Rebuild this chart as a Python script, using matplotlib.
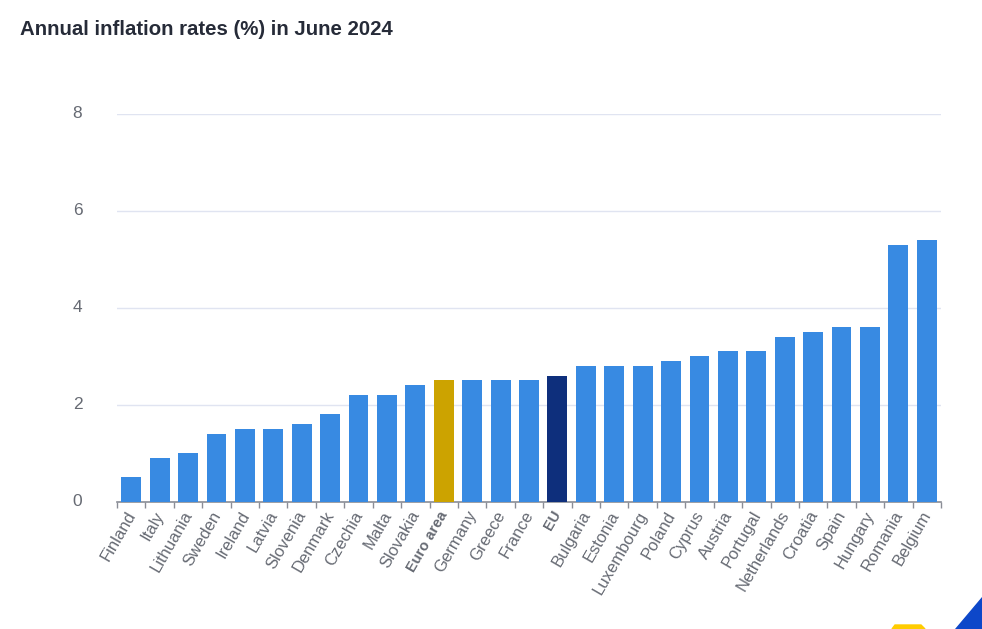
#!/usr/bin/env python3
"""Annual inflation rates in June 2024, bar chart by country."""
import matplotlib
matplotlib.use("Agg")  # headless: write a file, never open a window
import matplotlib.pyplot as plt
from matplotlib.patches import Polygon
from matplotlib.transforms import ScaledTranslation

countries = ["Finland", "Italy", "Lithuania", "Sweden", "Ireland", "Latvia",
             "Slovenia", "Denmark", "Czechia", "Malta", "Slovakia",
             "Euro area", "Germany", "Greece", "France", "EU", "Bulgaria",
             "Estonia", "Luxembourg", "Poland", "Cyprus", "Austria",
             "Portugal", "Netherlands", "Croatia", "Spain", "Hungary",
             "Romania", "Belgium"]
rates = [0.5, 0.9, 1.0, 1.4, 1.5, 1.5, 1.6, 1.8, 2.2, 2.2, 2.4, 2.5, 2.5, 2.5,
         2.5, 2.6, 2.8, 2.8, 2.8, 2.9, 3.0, 3.1, 3.1, 3.4, 3.5, 3.6, 3.6, 5.3,
         5.4]
y_ticks = [0, 2, 4, 6, 8]
highlight = {"Euro area": "#cca300", "EU": "#0e2f7c"}

W, H = 982, 629
TEXT = "#666a73"

plt.rcParams["font.family"] = ["Liberation Sans", "DejaVu Sans"]
fig = plt.figure(figsize=(W / 100, H / 100), dpi=100)
ax = fig.add_axes([117 / W, 1 - 501.5 / H, 824 / W, 387.5 / H])

colors = [highlight.get(c, "#388ae2") for c in countries]
ax.bar(range(len(countries)), rates, width=0.7, color=colors, zorder=3)
ax.set_xlim(-0.5, len(countries) - 0.5)
ax.set_ylim(0, 8)

ax.set_yticks(y_ticks)
ax.tick_params(axis="y", length=0, pad=25, labelsize=12.5, labelcolor=TEXT)
ax.grid(axis="y", color="#e0e4f1", lw=1, zorder=0)
ax.set_axisbelow(True)
for lab in ax.get_yticklabels():
    lab.set_transform(lab.get_transform()
                      + ScaledTranslation(0, 2 / 100, fig.dpi_scale_trans))

# ticks sit on the category edges, labels on the bar centres
ax.set_xticks([i - 0.5 for i in range(len(countries) + 1)])
ax.tick_params(axis="x", which="major", length=4, width=1, color="#8a8d96",
               labelbottom=False)
ax.set_xticks(range(len(countries)), minor=True)
ax.set_xticklabels(countries, minor=True, rotation=60, ha="right",
                   va="top", rotation_mode="anchor", fontsize=12,
                   color=TEXT)
ax.tick_params(axis="x", which="minor", length=0, pad=5)
for lab in ax.get_xticklabels(minor=True):
    if lab.get_text() in highlight:
        lab.set_fontweight("bold")
        lab.set_fontsize(10.5)
    lab.set_transform(lab.get_transform()
                      + ScaledTranslation(-5.5 / 100, 0, fig.dpi_scale_trans))

for side in ("top", "left", "right"):
    ax.spines[side].set_visible(False)
ax.spines["bottom"].set_color("#8a8d96")
ax.spines["bottom"].set_linewidth(1.2)

fig.text(20 / W, 1 - 29.5 / H, "Annual inflation rates (%) in June 2024",
         fontsize=14.7, fontweight="bold", color="#262b38", va="center")

# corner of the page decoration cut off by the screenshot
fig.add_artist(Polygon([(955 / W, 0), (982 / W, 0), (982 / W, 1 - 597 / H)],
                       transform=fig.transFigure, color="#0d47c9"))
fig.add_artist(Polygon([(892 / W, 0), (895 / W, 1 - 625 / H),
                        (921 / W, 1 - 625 / H), (925 / W, 0)],
                       transform=fig.transFigure, color="#ffcc00"))

fig.savefig("out.png", dpi=100)
